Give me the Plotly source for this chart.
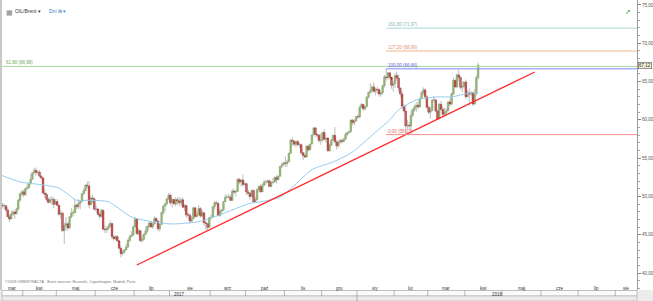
import plotly.graph_objects as go
import pandas as pd
import numpy as np

# ---------------- data ----------------
first_open = 48.49
closes = [
    48.40, 47.72, 48.86, 48.75, 48.78, 48.22, 47.34, 47.04, 47.70, 47.97, 47.73, 48.37, 49.51, 50.35, 50.60,
    50.24, 51.03, 51.15, 51.70, 52.24, 53.08, 53.40, 53.11, 53.18, 52.65, 52.41, 50.44, 50.27, 49.62, 49.23, 49.56, 49.62, 48.97, 49.33,
    48.84, 47.66, 47.82, 45.52, 46.22, 46.43, 45.88, 47.33, 47.83, 47.84, 48.85, 48.66, 49.07, 49.35, 50.33, 50.73, 51.47, 51.36, 48.90, 49.80, 49.66, 48.32,
    48.36, 47.66, 47.40, 48.19, 45.72, 45.64, 45.83, 46.08, 46.46, 44.73, 44.46, 44.74, 44.20, 43.23, 42.53, 42.74, 43.01, 43.38, 44.24, 44.74, 44.93, 46.04,
    47.07, 45.13, 45.52, 44.23, 44.40, 45.04, 45.49, 46.08, 46.54, 46.02, 46.40, 47.12, 46.79, 45.77, 46.34, 47.89, 48.75, 49.04, 49.71, 50.17,
    49.16, 49.59, 49.03, 49.58, 49.39, 49.17, 49.56, 48.59, 48.82, 47.59, 47.55, 46.78, 47.09, 48.51, 47.37, 47.64, 48.41, 47.43, 47.87, 46.57, 46.44, 45.96, 47.23,
    47.29, 48.66, 49.16, 49.09, 47.48, 48.07, 48.23, 49.30, 49.89, 49.89, 49.91, 49.48, 50.69, 50.55, 50.66, 52.22, 51.88, 52.14, 51.56, 51.67,
    50.58, 50.42, 49.98, 50.79, 49.29, 49.58, 50.92, 51.30, 50.60, 51.45, 51.87, 51.88, 52.04, 51.29, 51.84, 51.90, 52.47, 52.18, 52.64, 53.90, 54.15, 54.38,
    54.30, 54.54, 55.64, 57.35, 57.20, 56.81, 57.17, 56.74, 56.76, 55.70, 55.33, 55.14, 56.55, 56.09, 56.83, 58.02, 58.95, 58.11, 57.99, 57.30, 57.40,
    58.36, 57.47, 57.62, 55.96, 56.69, 57.36, 57.99, 57.14, 56.60, 57.04, 57.30, 57.16, 57.46, 58.09, 58.36, 58.47, 59.97, 59.64, 59.84, 60.42,
    60.37, 61.63, 62.01, 61.44, 61.73, 62.96, 63.57, 63.80, 64.30, 63.73, 63.97, 63.95, 63.37, 63.57, 64.47, 65.61, 65.51, 66.14, 65.56, 64.50, 64.73,
    65.80, 65.45, 64.15, 63.39, 61.79, 61.15, 59.20, 59.29, 59.19, 60.60, 61.34, 61.68, 61.90, 61.68, 62.77, 63.55, 63.91, 63.01, 61.64,
    60.99, 61.25, 62.57, 62.60, 61.15, 60.12, 62.04, 61.36, 60.71, 60.96, 61.19, 62.34, 62.06, 63.40, 65.17, 64.30, 65.88, 65.55, 64.25, 64.38, 64.94,
    63.01, 63.51, 63.37, 63.54, 62.06, 63.42, 65.51, 67.12,
]
highs = [
    48.72, 48.45, 49.07, 49.20, 49.07, 48.86, 48.60, 47.65, 48.16, 48.22, 48.05, 48.52, 49.70, 50.48, 50.85,
    50.90, 51.10, 51.60, 51.80, 52.94, 53.14, 53.76, 53.76, 53.45, 53.44, 52.80, 52.54, 51.00, 50.50, 49.88, 49.90, 50.05, 49.90, 49.63,
    49.65, 48.93, 48.22, 48.00, 46.60, 47.30, 46.60, 47.43, 48.45, 48.25, 49.66, 49.05, 49.66, 49.50, 50.45, 51.02, 51.63, 51.96, 52.00, 50.05, 50.20, 49.88,
    48.90, 48.24, 47.98, 48.35, 48.30, 46.20, 46.00, 46.45, 46.84, 46.56, 44.90, 44.95, 44.98, 44.15, 43.56, 43.00, 43.12, 43.82, 44.46, 45.01, 45.45, 46.19,
    47.32, 47.18, 45.79, 45.65, 44.96, 45.18, 46.06, 46.23, 46.73, 46.82, 46.64, 47.37, 47.29, 46.77, 46.47, 48.00, 48.79, 49.19, 49.79, 50.43,
    50.37, 49.77, 49.64, 49.92, 49.84, 49.95, 49.77, 49.90, 48.99, 48.86, 47.85, 47.81, 47.44, 48.68, 48.62, 48.11, 48.83, 48.61, 48.16, 47.94, 46.80, 46.52, 47.33,
    47.63, 48.74, 49.42, 49.42, 49.25, 48.38, 48.40, 49.42, 50.27, 50.21, 50.35, 50.18, 50.96, 51.04, 50.85, 52.43, 52.43, 52.29, 52.86, 51.87,
    51.78, 50.86, 50.62, 50.89, 50.90, 49.96, 51.01, 51.42, 51.60, 51.67, 52.20, 52.12, 52.22, 52.17, 52.02, 52.39, 52.62, 52.77, 52.71, 54.00, 54.39, 54.57,
    55.22, 54.80, 55.71, 57.46, 57.69, 57.22, 57.27, 57.38, 57.00, 56.91, 55.73, 55.67, 56.70, 56.74, 56.90, 58.07, 59.05, 59.07, 58.20, 58.16, 58.17,
    58.40, 58.75, 57.74, 57.55, 56.93, 57.52, 58.05, 59.05, 57.36, 57.38, 57.55, 57.52, 57.64, 58.31, 58.39, 58.60, 60.06, 60.09, 60.09, 60.51,
    60.74, 61.84, 62.21, 62.04, 61.81, 63.11, 63.67, 64.77, 64.50, 64.89, 64.14, 64.34, 64.09, 63.74, 64.54, 65.82, 66.66, 66.26, 66.20, 65.25, 65.10,
    66.08, 66.33, 65.89, 64.25, 63.75, 62.04, 61.85, 60.00, 59.70, 61.22, 61.47, 61.99, 62.29, 62.43, 62.91, 63.72, 64.24, 64.11, 63.22,
    61.84, 61.67, 62.70, 63.16, 62.73, 61.34, 62.20, 62.47, 61.69, 61.59, 61.52, 62.40, 62.79, 63.58, 65.56, 65.25, 66.03, 66.55, 65.67, 65.06, 65.00,
    65.26, 63.88, 64.10, 63.77, 63.67, 64.01, 65.81, 67.45,
]
lows = [
    47.87, 47.26, 47.55, 48.42, 48.41, 48.04, 47.31, 46.64, 47.05, 47.43, 47.08, 47.65, 48.15, 49.36, 50.01,
    49.90, 50.05, 50.80, 51.00, 51.50, 52.15, 53.00, 52.70, 52.90, 52.45, 52.20, 50.28, 49.80, 49.33, 49.05, 49.10, 48.87, 48.50, 48.90,
    48.71, 47.51, 47.04, 45.40, 43.76, 45.60, 45.52, 45.75, 47.15, 47.40, 48.32, 48.30, 48.40, 48.30, 49.28, 50.20, 50.75, 51.03, 48.45, 49.10, 49.11, 48.17,
    47.95, 47.53, 47.01, 47.25, 45.63, 45.23, 45.25, 45.55, 45.98, 44.40, 44.25, 44.33, 44.05, 43.08, 42.05, 42.28, 42.57, 43.00, 43.28, 44.06, 44.75, 45.03,
    46.19, 45.02, 44.85, 44.05, 43.97, 44.22, 45.00, 45.25, 45.90, 45.94, 45.76, 46.35, 46.66, 45.50, 45.40, 46.41, 47.60, 48.07, 48.80, 49.49,
    48.86, 48.53, 48.87, 48.70, 48.93, 48.74, 48.84, 48.49, 48.08, 47.24, 47.05, 46.46, 46.55, 46.99, 47.21, 47.25, 47.92, 47.23, 47.26, 46.20, 45.58, 45.58, 46.09,
    46.94, 47.26, 48.27, 48.93, 47.41, 47.40, 47.70, 48.10, 49.40, 49.75, 49.72, 49.39, 49.53, 50.35, 49.99, 50.64, 51.59, 51.30, 51.28, 51.39,
    50.19, 50.07, 49.55, 49.95, 49.17, 49.16, 49.46, 50.53, 50.47, 50.91, 51.66, 51.54, 51.73, 51.23, 51.16, 51.63, 51.81, 51.68, 52.12, 52.59, 53.67, 54.02,
    53.85, 53.89, 54.43, 55.53, 56.62, 56.59, 56.40, 56.62, 56.33, 55.49, 54.77, 55.01, 55.32, 55.84, 56.04, 57.11, 58.08, 57.78, 57.61, 57.00, 56.75,
    57.16, 57.26, 56.99, 55.86, 55.82, 56.61, 57.29, 56.94, 56.14, 56.38, 56.89, 56.93, 57.08, 57.45, 57.85, 58.17, 58.33, 59.30, 59.26, 59.80,
    60.10, 60.20, 61.59, 61.20, 61.21, 61.76, 62.81, 63.37, 63.55, 63.54, 63.20, 63.40, 63.08, 63.00, 63.28, 64.21, 65.10, 65.24, 65.31, 64.06, 63.67,
    64.16, 65.12, 63.67, 62.97, 61.55, 60.95, 58.07, 58.84, 58.84, 58.29, 60.37, 61.06, 61.05, 61.38, 61.71, 62.80, 63.23, 62.74, 61.38,
    60.73, 60.15, 61.09, 62.29, 61.00, 60.22, 60.24, 61.20, 60.55, 60.39, 60.58, 61.13, 61.79, 61.87, 63.21, 64.14, 64.15, 65.02, 63.98, 63.62, 64.02,
    62.73, 62.94, 61.84, 63.09, 61.81, 61.96, 63.19, 65.27,
]

ma_dates = ["2017-03-15", "2017-03-30", "2017-04-19", "2017-05-02", "2017-05-16", "2017-05-25",
            "2017-06-12", "2017-06-29", "2017-07-18", "2017-08-02", "2017-08-23", "2017-09-11",
            "2017-10-04", "2017-10-12", "2017-10-27", "2017-11-07", "2017-11-22", "2017-12-11",
            "2017-12-27", "2018-01-12", "2018-01-29", "2018-02-05", "2018-02-20", "2018-03-08",
            "2018-03-20", "2018-04-04", "2018-04-11"]
ma_vals = [52.8, 51.9, 51.5, 51.1, 49.5, 49.5,
           49.3, 47.3, 46.7, 46.4, 46.7, 47.6,
           49.1, 49.3, 49.9, 51.2, 53.5, 54.5,
           55.8, 58.0, 60.0, 61.3, 62.6, 63.0,
           63.0, 63.5, 63.5]

trend_dates = ["2017-07-05", "2018-05-25"]
trend_prices = [41.04, 66.25]

fib_start = "2018-01-25"
fib_levels = [71.97, 68.99, 66.66, 58.07]
fib_texts = ["161,80 (71,97)", "127,20 (68,99)", "100,00 (66,66)", "0,00 (58,07)"]
fib_colors = ["#a9d9d6", "#f2b48a", "#7f86f5", "#f28a8a"]
fib_text_colors = ["#7fb8b4", "#e0926a", "#5a62e0", "#e06a6a"]
green_level = 66.98
green_text = "61,80 (66,98)"
last_price_text = "67,12"

y_ticks = [40, 45, 50, 55, 60, 65, 70, 75]
y_ticktext = ["40,00", "45,00", "50,00", "55,00", "60,00", "65,00", "70,00", "75,00"]
month_names = ["sty", "lut", "mar", "kwi", "maj", "cze", "lip", "sie", "wrz", "paź", "lis", "gru"]

holidays = ["2017-04-14", "2017-05-29", "2017-07-04", "2017-09-04", "2017-11-23", "2017-12-25",
            "2018-01-01", "2018-01-15", "2018-02-19", "2018-03-30", "2018-05-28", "2018-07-04"]

# ---------------- build ----------------
cal = pd.bdate_range("2017-03-13", "2018-08-31", freq="C", holidays=holidays)
n = len(closes)
opens = [first_open] + closes[:-1]

up_x, up_base, up_h = [], [], []
dn_x, dn_base, dn_h = [], [], []
for i, (o, c) in enumerate(zip(opens, closes)):
    lo_b, hi_b = min(o, c), max(o, c)
    h = max(hi_b - lo_b, 0.06)
    if c >= o:
        up_x.append(i); up_base.append(lo_b); up_h.append(h)
    else:
        dn_x.append(i); dn_base.append(lo_b); dn_h.append(h)

def idx_of(d):
    return int(cal.get_loc(pd.Timestamp(d)))

X0, X1 = 2.8, 361.8
Y0, Y1 = 37.78, 75.65
PW, PH = 635.0, 290.0

fig = go.Figure()

# wicks
wx, wy = [], []
for i in range(n):
    wx += [i, i, None]
    wy += [lows[i], highs[i], None]
fig.add_trace(go.Scatter(x=wx, y=wy, mode="lines", line=dict(color="#a0a0a0", width=0.7),
                         hoverinfo="skip"))

# bodies
fig.add_trace(go.Bar(x=up_x, y=up_h, base=up_base, width=0.9,
                     marker=dict(color="#92c95c", line=dict(color="#5d8c36", width=0.4)),
                     hoverinfo="skip"))
fig.add_trace(go.Bar(x=dn_x, y=dn_h, base=dn_base, width=0.9,
                     marker=dict(color="#e80000", line=dict(color="#7a0000", width=0.4)),
                     hoverinfo="skip"))

# moving average
fig.add_trace(go.Scatter(x=[idx_of(d) for d in ma_dates], y=ma_vals, mode="lines",
                         line=dict(color="#93cdef", width=1, shape="spline", smoothing=0.6),
                         hoverinfo="skip"))

# trend line
fig.add_trace(go.Scatter(x=[idx_of(d) for d in trend_dates], y=trend_prices, mode="lines",
                         line=dict(color="#ff2a2a", width=1.3), hoverinfo="skip"))

shapes = []
annotations = []

# green horizontal line across chart
shapes.append(dict(type="line", xref="paper", yref="y", x0=0, x1=1, y0=green_level, y1=green_level,
                   line=dict(color="#a6d89c", width=1)))
annotations.append(dict(xref="paper", yref="y", x=0.003, y=green_level, text=green_text,
                        showarrow=False, xanchor="left", yanchor="bottom",
                        font=dict(size=4.5, color="#6aa85e", family="Arial"), yshift=-1))

# fib lines
fs = idx_of(fib_start)
for lvl, txt, col, tcol in zip(fib_levels, fib_texts, fib_colors, fib_text_colors):
    shapes.append(dict(type="line", xref="x", yref="y", x0=fs, x1=X1, y0=lvl, y1=lvl,
                       line=dict(color=col, width=1)))
    annotations.append(dict(xref="x", yref="y", x=fs, y=lvl, text=txt, showarrow=False,
                            xanchor="left", yanchor="bottom", yshift=-1,
                            font=dict(size=4.5, color=tcol, family="Arial")))

# left border
shapes.append(dict(type="rect", xref="paper", yref="paper", x0=-2 / PW, x1=0, y0=-11 / PH, y1=1,
                   fillcolor="#c8c8c8", line=dict(width=0), layer="above"))
# bottom strip
shapes.append(dict(type="rect", xref="paper", yref="paper", x0=-2 / PW, x1=1 + 16 / PW,
                   y0=-11 / PH, y1=0, fillcolor="#ececec", line=dict(width=0), layer="above"))
m_top, m_bot, y_bot = -0.5 / PH, -6 / PH, -11 / PH
shapes.append(dict(type="rect", xref="paper", yref="paper", x0=0, x1=1, y0=m_bot, y1=m_top,
                   fillcolor="#fbfbfb", line=dict(color="#9a9a9a", width=0.6), layer="above"))
shapes.append(dict(type="rect", xref="paper", yref="paper", x0=0, x1=1, y0=y_bot, y1=m_bot,
                   fillcolor="#ebebeb", line=dict(color="#b0b0b0", width=0.6), layer="above"))

per = cal.to_period("M")
ybound = None
for p in per.unique():
    ids = np.where(per == p)[0]
    lo, hi = ids[0] - 0.5, ids[-1] + 0.5
    a, b = max(lo, X0), min(hi, X1)
    if b <= a:
        continue
    if lo > X0:
        ybottom = y_bot if p.month == 1 else m_bot
        shapes.append(dict(type="line", xref="x", yref="paper", x0=lo, x1=lo, y0=ybottom, y1=m_top,
                           line=dict(color="#8a8a8a", width=0.6), layer="above"))
    annotations.append(dict(xref="x", yref="paper", x=(a + b) / 2, y=(m_top + m_bot) / 2,
                            text=month_names[p.month - 1], showarrow=False,
                            font=dict(size=4.5, color="#333", family="Arial")))
    if p.month == 1:
        ybound = lo
for t, xc in [("2017", (X0 + ybound) / 2), ("2018", (ybound + X1) / 2)]:
    annotations.append(dict(xref="x", yref="paper", x=xc, y=(m_bot + y_bot) / 2, text=t,
                            showarrow=False, font=dict(size=4.5, color="#333", family="Arial")))

# header texts
annotations.append(dict(xref="paper", yref="paper", x=2 / PW, y=1 - 6 / PH, text="▦", showarrow=False,
                        xanchor="left", font=dict(size=7, color="#888")))
annotations.append(dict(xref="paper", yref="paper", x=11 / PW, y=1 - 6 / PH, text="OIL/Brent ▾",
                        showarrow=False, xanchor="left", font=dict(size=5, color="#333", family="Arial")))
annotations.append(dict(xref="paper", yref="paper", x=45 / PW, y=1 - 6 / PH, text="Dni ⊞ ▾",
                        showarrow=False, xanchor="left", font=dict(size=5, color="#3d7cc9", family="Arial")))
annotations.append(dict(xref="paper", yref="paper", x=1 - 4 / PW, y=1 - 5 / PH, text="➚",
                        showarrow=False, xanchor="right", font=dict(size=7, color="#3da53d")))
# copyright
annotations.append(dict(xref="paper", yref="paper", x=1 / PW, y=4 / PH,
                        text="©2018 ORBISTRACTA · Burst sources: Brussels, Copenhagen, Madrid, Paris",
                        showarrow=False, xanchor="left", font=dict(size=3.8, color="#777", family="Arial")))
# last price box
annotations.append(dict(xref="paper", yref="y", x=1, y=closes[-1], text=last_price_text, showarrow=False,
                        xanchor="left", xshift=0.5, bgcolor="#f7f3d8", bordercolor="#555", borderwidth=0.6,
                        borderpad=0.5, font=dict(size=4.5, color="#222", family="Arial")))

fig.update_layout(
    width=653, height=301, margin=dict(l=2, r=16, t=0, b=11),
    paper_bgcolor="white", plot_bgcolor="white", showlegend=False, barmode="overlay",
    shapes=shapes, annotations=annotations,
    xaxis=dict(range=[X0, X1], showticklabels=False, showgrid=False, zeroline=False,
               showline=False, ticks=""),
    yaxis=dict(range=[Y0, Y1], side="right", tickvals=y_ticks, ticktext=y_ticktext,
               ticks="outside", ticklen=3, tickcolor="#888", showgrid=False, zeroline=False,
               showline=True, linecolor="#999", linewidth=1, automargin=False,
               tickfont=dict(size=4.5, color="#555", family="Arial"),
               minor=dict(ticks="outside", dtick=1, ticklen=2, tickcolor="#aaa")),
)

fig.write_html("out.html")
